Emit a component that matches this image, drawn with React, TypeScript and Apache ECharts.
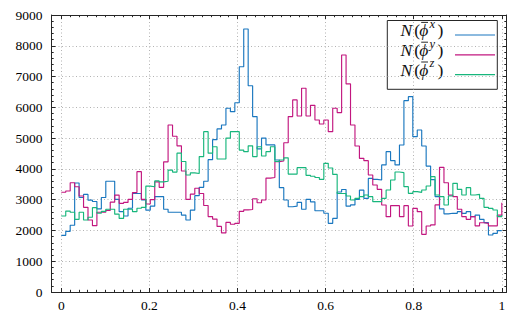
import React, { useEffect, useRef } from 'react';
import * as echarts from 'echarts';

// Histogram counts, 99 bins of width 1/99 on [0, 1]; the 100th value is the closing step at x = 1.
const phiX = [
  1840, 1970, 2170, 3540, 3070, 3170, 2985, 2940, 2700, 3070,
  3600, 3600, 3010, 2610, 2470, 2720, 3200, 3200, 2990, 2660,
  2790, 3100, 3100, 2690, 2590, 2590, 2590, 2500, 2340, 2660,
  3130, 3400, 3600, 4300, 4950, 5300, 5425, 5970, 5860, 6150,
  7320, 8545, 6700, 5700, 4650, 5000, 4780, 4780, 4290, 3390,
  2990, 2770, 2790, 2910, 2690, 3010, 2930, 2640, 2640, 2560,
  2230, 2390, 3250, 3330, 2790, 2830, 3010, 3310, 3040, 3690,
  3660, 3640, 4130, 4560, 4270, 4130, 4775, 6216, 6346, 5046,
  5263, 4743, 4090, 3650, 3100, 2700, 2540, 2557, 2557, 2610,
  2557, 2610, 2448, 2500, 2361, 2253, 1852, 1906, 1993, 1993,
];
const phiY = [
  3240, 3280, 3550, 3420, 3120, 2750, 2340, 2155, 2590, 2590,
  2650, 2920, 3150, 2880, 2910, 3010, 3230, 3910, 3010, 2860,
  3000, 3580, 3400, 4230, 5425, 5060, 4750, 3930, 3010, 3180,
  3370, 3200, 2810, 2450, 2370, 2130, 1920, 2260, 2200, 2230,
  2620, 2670, 2680, 3030, 2900, 2990, 3700, 3720, 4235, 4255,
  4850, 5700, 6240, 5720, 6620, 5720, 6065, 5590, 5460, 5590,
  5210, 5970, 5830, 7700, 6760, 5426, 4744, 4343, 4267, 3801,
  3476, 3336, 2827, 2447, 2805, 2805, 2447, 2805, 2144, 2718,
  2610, 1873, 2144, 2180, 2830, 4050, 3550, 3150, 3100, 2690,
  2450, 2360, 2450, 2150, 2250, 2230, 2150, 2150, 2500, 2900,
];
const phiZ = [
  2470, 2630, 2590, 2360, 2590, 2340, 2430, 2740, 2560, 2620,
  2690, 2690, 2530, 2390, 2690, 2690, 2610, 2720, 2750, 3440,
  3420, 3610, 3580, 3600, 3960, 3895, 4510, 4240, 3800, 3870,
  3850, 4400, 5210, 4510, 4720, 4320, 4320, 5000, 5210, 5210,
  4610, 4560, 4750, 4400, 4720, 4420, 4560, 4720, 4240, 4290,
  4360, 3830, 3830, 4040, 4040, 3790, 3760, 3720, 3660, 4180,
  4030, 3820, 3200, 3200, 3120, 2990, 3043, 3100, 3152, 3098,
  2935, 2935, 3043, 3314, 3639, 3899, 3877, 3422, 3206, 3260,
  3238, 3314, 3444, 3747, 3152, 3098, 2827, 3119, 3531, 3336,
  3152, 3390, 3152, 3173, 3043, 2751, 2719, 2665, 2448, 2502,
];

const seriesValues = [phiX, phiY, phiZ];
const seriesSup = ['x', 'y', 'z'];
const seriesColors = ['#1a77bf', '#c2177f', '#17b67c'];

const xTickValues = [0, 0.2, 0.4, 0.6, 0.8, 1];
const xTickLabels = ['0', '0.2', '0.4', '0.6', '0.8', '1'];
const yTickValues = [0, 1000, 2000, 3000, 4000, 5000, 6000, 7000, 8000, 9000];
const yTickLabels = ['0', '1000', '2000', '3000', '4000', '5000', '6000', '7000', '8000', '9000'];

const FONT = 'Liberation Serif';
const FRAME = '#262626';
const GRIDC = '#b3b3b3';

export default function App() {
  const ref = useRef<HTMLDivElement>(null);

  useEffect(() => {
    const chart = echarts.init(ref.current!, null, { renderer: 'svg' });

    const xs = phiX.map((_, k) => k / (phiX.length - 1));
    const frame = { left: 51.5, top: 15, width: 455, height: 277 };
    const plot = { left: 61.3, top: 15, width: 440.5, height: 277 };

    const tickStyle = { lineStyle: { color: FRAME, width: 1 } };
    const dotted = { show: true, lineStyle: { color: GRIDC, width: 1, type: [1, 2.5] as any } };

    const yCommon = {
      type: 'value' as const,
      min: yTickValues[0],
      max: yTickValues[yTickValues.length - 1],
      interval: yTickValues[1] - yTickValues[0],
      gridIndex: 0,
      axisLine: { show: true, onZero: false, lineStyle: { color: FRAME, width: 1 } },
      axisTick: { show: true, inside: true, length: 4, ...tickStyle },
      minorTick: { show: true, splitNumber: 5, length: 2.2, ...tickStyle },
    };

    const xFrameCommon = {
      type: 'value' as const,
      gridIndex: 0,
      min: 0,
      max: 1,
      axisLine: { show: true, onZero: false, lineStyle: { color: FRAME, width: 1 } },
      axisTick: { show: false },
      axisLabel: { show: false },
      splitLine: { show: false },
    };

    const xPlotCommon = {
      type: 'value' as const,
      gridIndex: 1,
      min: xTickValues[0],
      max: xTickValues[xTickValues.length - 1],
      interval: xTickValues[1] - xTickValues[0],
      axisLine: { show: false, onZero: false },
      axisTick: { show: true, inside: true, length: 4, ...tickStyle },
      minorTick: { show: true, splitNumber: 10, length: 2.2, ...tickStyle },
    };

    // Legend (drawn with graphic elements so that the math-style label can be laid out piece by piece)
    const legendRowY = [35, 54.8, 74.6];
    const mainSize = 17.5;
    const supSize = 12.5;
    const legendChildren: any[] = [
      {
        type: 'rect',
        shape: { x: 387.3, y: 20.5, width: 110, height: 68.8 },
        style: { fill: '#fff', stroke: FRAME, lineWidth: 1 },
      },
    ];
    const txt = (x: number, y: number, text: string, size: number, italic: boolean) => ({
      type: 'text',
      x,
      y,
      style: {
        text,
        fill: '#111',
        fontFamily: FONT,
        fontSize: size,
        fontStyle: italic ? 'italic' : 'normal',
        align: 'left',
        verticalAlign: 'middle',
      },
    });
    seriesSup.forEach((s, i) => {
      const base = legendRowY[i] + 1; // text baseline
      const mid = base - 0.3375 * mainSize;
      const supMid = base - 8 - 0.3375 * supSize;
      legendChildren.push(txt(400.5, mid, 'N', mainSize, true));
      legendChildren.push(txt(414.2, mid, '(', mainSize, false));
      legendChildren.push(txt(419.3, mid, 'ϕ', mainSize, true));
      legendChildren.push({
        type: 'line',
        shape: { x1: 421.2, y1: base - 13.6, x2: 428, y2: base - 13.6 },
        style: { stroke: '#111', lineWidth: 0.9 },
      });
      legendChildren.push(txt(429.6, supMid, s, supSize, true));
      legendChildren.push(txt(437.6, mid, ')', mainSize, false));
      legendChildren.push({
        type: 'line',
        shape: { x1: 455, y1: legendRowY[i], x2: 495, y2: legendRowY[i] },
        style: { stroke: seriesColors[i], lineWidth: 1.2 },
      });
    });

    chart.setOption({
      animation: false,
      backgroundColor: '#fff',
      grid: [
        { ...frame, containLabel: false },
        { ...plot, containLabel: false },
      ],
      xAxis: [
        { ...xFrameCommon, position: 'bottom' },
        { ...xFrameCommon, position: 'top' },
        {
          ...xPlotCommon,
          position: 'bottom',
          axisLabel: {
            show: true,
            margin: 6,
            color: '#000',
            fontFamily: FONT,
            fontSize: 13.5,
            formatter: (v: number) => {
              const idx = xTickValues.findIndex((t) => Math.abs(t - v) < 1e-9);
              return idx >= 0 ? xTickLabels[idx] : '';
            },
          },
          splitLine: dotted,
        },
        {
          ...xPlotCommon,
          position: 'top',
          axisLabel: { show: false },
          splitLine: { show: false },
        },
      ],
      yAxis: [
        {
          ...yCommon,
          position: 'left',
          axisLabel: {
            show: true,
            margin: 9,
            color: '#000',
            fontFamily: FONT,
            fontSize: 13.5,
            formatter: (v: number) => {
              const idx = yTickValues.findIndex((t) => Math.abs(t - v) < 1e-6);
              return idx >= 0 ? yTickLabels[idx] : '';
            },
          },
          splitLine: dotted,
        },
        {
          ...yCommon,
          position: 'right',
          axisLabel: { show: false },
          splitLine: { show: false },
        },
        {
          type: 'value',
          gridIndex: 1,
          min: yTickValues[0],
          max: yTickValues[yTickValues.length - 1],
          show: false,
        },
      ],
      series: seriesValues.map((vals, i) => ({
        type: 'line',
        name: `N(ϕ̄${seriesSup[i]})`,
        xAxisIndex: 2,
        yAxisIndex: 2,
        step: 'end',
        showSymbol: false,
        symbol: 'none',
        data: vals.map((v, k) => [xs[k], v]),
        lineStyle: { color: seriesColors[i], width: 1.15 },
        itemStyle: { color: seriesColors[i] },
        z: 3 + i,
      })),
      graphic: [{ type: 'group', z: 100, children: legendChildren }],
    });

    return () => chart.dispose();
  }, []);

  return (
    <div
      ref={ref}
      style={{ position: 'fixed', left: 0, top: 0, width: 509, height: 316, background: '#fff' }}
    />
  );
}
